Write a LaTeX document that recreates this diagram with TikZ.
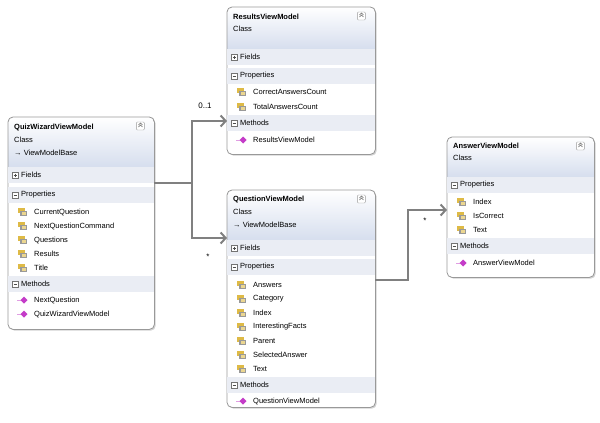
\documentclass[tikz,border=0pt]{standalone}
\usepackage{fontspec}
\setmainfont{Liberation Sans}
\usetikzlibrary{shadows,arrows.meta}
\definecolor{hdrblue}{RGB}{214,222,238}
\definecolor{bandgray}{RGB}{234,237,244}
\definecolor{lnkgray}{RGB}{128,128,128}
\definecolor{propyel}{RGB}{222,186,70}
\definecolor{methmag}{RGB}{196,60,200}
\tikzset{font=\fontsize{7.5}{9}\selectfont}
\tikzset{
  cls/.style={draw=none,fill=white,rounded corners=5pt,inner sep=0pt,
              drop shadow={shadow xshift=1.5pt,shadow yshift=-1.5pt,opacity=.35}},
  frame/.style={draw=black!40,line width=0.8pt,rounded corners=5pt},
  txt/.style={anchor=west,inner sep=0pt},
  lnk/.style={draw=lnkgray,line width=2pt,-{Straight Barb[length=5pt,width=11pt]}},
  mult/.style={inner sep=1pt,font=\fontsize{8}{9}\selectfont}
}
% name, x, y, width, height, header height
\newcommand\classbox[6]{%
  \node[cls,minimum width=#4pt,minimum height=#5pt,anchor=north west] (#1) at (#2,#3) {};
  \begin{scope}
    \clip[rounded corners=5pt] (#2,#3) rectangle ++(#4,#5);
    \fill[top color=white,bottom color=hdrblue] (#2,#3) rectangle ++(#4,#6);
  \end{scope}
  \draw[frame] (#1.north west) rectangle (#1.south east);
  \draw[black!40,fill=white,rounded corners=1pt] ([xshift=-18pt,yshift=-5pt]#1.north east) rectangle ++(8,8);
  \draw[black!60,line width=.5pt] ([xshift=-16pt,yshift=-8pt]#1.north east) -- ++(2,-2) -- ++(2,2)
        ([xshift=-16pt,yshift=-10pt]#1.north east) -- ++(2,-2) -- ++(2,2);
}
% name, x, y, width, label, plus/minus
\newcommand\sect[6]{%
  \fill[bandgray] (#2,#3-8) rectangle (#2+#4,#3+8);
  \draw[black!55,fill=white,line width=.4pt] (#2+4,#3-3) rectangle (#2+10,#3+3);
  \draw[black!70,line width=.5pt] (#2+5.5,#3) -- (#2+8.5,#3);
  \ifx#6+\draw[black!70,line width=.5pt] (#2+7,#3-1.5) -- (#2+7,#3+1.5);\fi
  \node[txt] (#1) at (#2+13,#3) {#5};
}
\newcommand\prop[4]{%
  \fill[propyel] (#2+10,#3-4) rectangle (#2+17,#3+1);
  \fill[black!40] (#2+12,#3-1) rectangle (#2+19,#3+4);
  \fill[propyel!60] (#2+14,#3) rectangle (#2+18,#3+3);
  \node[txt] (#1) at (#2+26,#3) {#4};
}
\newcommand\meth[4]{%
  \draw[methmag!50,line width=.6pt] (#2+9,#3) -- (#2+13,#3);
  \fill[methmag] (#2+16,#3-3.5) -- (#2+19.5,#3) -- (#2+16,#3+3.5) -- (#2+12.5,#3) -- cycle;
  \node[txt] (#1) at (#2+26,#3) {#4};
}
\begin{document}
\begin{tikzpicture}[x=1pt,y=-1pt]
\useasboundingbox (0,0) rectangle (600,423);

% QuizWizardViewModel
\classbox{quiz}{8}{117}{146}{212}{50}
\node[txt,font=\fontsize{7.5}{9}\bfseries] (quizT) at (14,128) {QuizWizardViewModel};
\node[txt] (quizC) at (14,140) {Class};
\node[txt] (quizB) at (14,153) {→ ViewModelBase};
\sect{quizF}{8}{175}{146}{Fields}{+}
\sect{quizP}{8}{195}{146}{Properties}{-}
\prop{q1}{8}{212}{CurrentQuestion}
\prop{q2}{8}{226}{NextQuestionCommand}
\prop{q3}{8}{240}{Questions}
\prop{q4}{8}{254}{Results}
\prop{q5}{8}{268}{Title}
\sect{quizM}{8}{284}{146}{Methods}{-}
\meth{q6}{8}{300}{NextQuestion}
\meth{q7}{8}{314}{QuizWizardViewModel}

% ResultsViewModel
\classbox{res}{227}{7}{148}{147}{42}
\node[txt,font=\fontsize{7.5}{9}\bfseries] (resT) at (233,17) {ResultsViewModel};
\node[txt] (resC) at (233,29) {Class};
\sect{resF}{227}{57}{148}{Fields}{+}
\sect{resP}{227}{76}{148}{Properties}{-}
\prop{r1}{227}{92}{CorrectAnswersCount}
\prop{r2}{227}{107}{TotalAnswersCount}
\sect{resM}{227}{123}{148}{Methods}{-}
\meth{r3}{227}{140}{ResultsViewModel}

% QuestionViewModel
\classbox{qst}{227}{190}{148}{217}{50}
\node[txt,font=\fontsize{7.5}{9}\bfseries] (qstT) at (233,200) {QuestionViewModel};
\node[txt] (qstC) at (233,212) {Class};
\node[txt] (qstB) at (233,225) {→ ViewModelBase};
\sect{qstF}{227}{248}{148}{Fields}{+}
\sect{qstP}{227}{267}{148}{Properties}{-}
\prop{s1}{227}{285}{Answers}
\prop{s2}{227}{299}{Category}
\prop{s3}{227}{313}{Index}
\prop{s4}{227}{327}{InterestingFacts}
\prop{s5}{227}{341}{Parent}
\prop{s6}{227}{355}{SelectedAnswer}
\prop{s7}{227}{369}{Text}
\sect{qstM}{227}{385}{148}{Methods}{-}
\meth{s8}{227}{401}{QuestionViewModel}

% AnswerViewModel
\classbox{ans}{447}{137}{147}{140}{40}
\node[txt,font=\fontsize{7.5}{9}\bfseries] (ansT) at (453,146) {AnswerViewModel};
\node[txt] (ansC) at (453,158) {Class};
\sect{ansP}{447}{185}{147}{Properties}{-}
\prop{a1}{447}{202}{Index}
\prop{a2}{447}{216}{IsCorrect}
\prop{a3}{447}{230}{Text}
\sect{ansM}{447}{246}{147}{Methods}{-}
\meth{a4}{447}{263}{AnswerViewModel}

% associations
\coordinate (quizOut) at (quiz.east |- 0,183);
\coordinate (fork) at (192,183);
\coordinate (resIn) at (res.west |- 0,121);
\coordinate (qstIn) at (qst.west |- 0,238);
\coordinate (qstOut) at (qst.east |- 0,280);
\coordinate (ansIn) at (ans.west |- 0,210);
\draw[draw=lnkgray,line width=2pt] (quizOut) -- (fork);
\draw[lnk] (fork) |- (resIn);
\draw[lnk] (fork) |- (qstIn);
\draw[lnk] (qstOut) -- (408,280) |- (ansIn);
\node[mult] (m1) at (205,106) {0..1};
\node[mult] (m2) at (208,257) {*};
\node[mult] (m3) at (425,221) {*};
\end{tikzpicture}
\end{document}
